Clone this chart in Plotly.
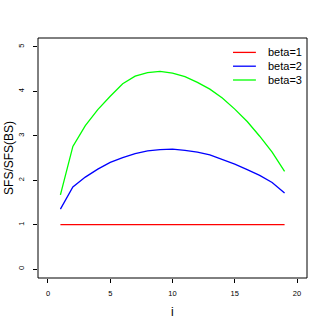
import plotly.graph_objects as go

i_vals = list(range(1, 20))
beta1 = [1.0] * 19
beta2 = [1.35, 1.85, 2.07, 2.25, 2.40, 2.51, 2.60, 2.66, 2.69, 2.70,
         2.67, 2.63, 2.57, 2.47, 2.36, 2.24, 2.11, 1.95, 1.71]
beta3 = [1.67, 2.76, 3.23, 3.59, 3.89, 4.17, 4.34, 4.42, 4.45, 4.41,
         4.33, 4.20, 4.05, 3.85, 3.60, 3.32, 2.99, 2.63, 2.20]
series_names = ["beta=1", "beta=2", "beta=3"]
series_colors = ["#FF0000", "#0000FF", "#00FF00"]
x_ticks = [0, 5, 10, 15, 20]
y_ticks = [0, 1, 2, 3, 4, 5]

FONT = "Liberation Sans, Arial, Helvetica, sans-serif"

fig = go.Figure()
for name, ys, col in zip(series_names, [beta1, beta2, beta3], series_colors):
    fig.add_trace(go.Scatter(x=i_vals, y=ys, mode="lines", name=name,
                             line=dict(color=col, width=1.3), showlegend=False,
                             hoverinfo="skip"))

fig.update_layout(
    width=327, height=327,
    margin=dict(l=38, r=20, t=38, b=49, pad=0),
    paper_bgcolor="white", plot_bgcolor="white",
    font=dict(family=FONT, color="black"),
    xaxis=dict(range=[-0.8, 20.8], tickvals=x_ticks, ticks="outside", ticklen=4,
               tickcolor="black", tickwidth=1, showgrid=False, zeroline=False,
               showline=False, tickfont=dict(size=7.5, color="black"),
               ticklabelstandoff=4),
    yaxis=dict(range=[-0.2, 5.2], tickvals=y_ticks, ticks="outside", ticklen=4,
               tickcolor="black", tickwidth=1, showgrid=False, zeroline=False,
               showline=False, tickfont=dict(size=7.5, color="black"), tickangle=-90,
               ticklabelstandoff=6),
)

# plot frame
fig.add_shape(type="rect", xref="paper", yref="paper", x0=0, x1=1, y0=0, y1=1,
              line=dict(color="black", width=1), fillcolor="rgba(0,0,0,0)")

# axis titles
fig.add_annotation(text="i", xref="paper", yref="paper", x=0.5, y=-0.14,
                   showarrow=False, font=dict(size=12), xanchor="center", yanchor="middle")
fig.add_annotation(text="SFS/SFS(BS)", xref="paper", yref="paper", x=-0.108, y=0.5,
                   showarrow=False, font=dict(size=12), textangle=-90,
                   xanchor="center", yanchor="middle")

# legend (drawn manually, R style)
leg_y = [0.94, 0.8825, 0.825]
for name, col, ly in zip(series_names, series_colors, leg_y):
    fig.add_shape(type="line", xref="paper", yref="paper", x0=0.725, x1=0.81,
                  y0=ly, y1=ly, line=dict(color=col, width=1.3))
    fig.add_annotation(text=name, xref="paper", yref="paper", x=0.849, y=ly,
                       showarrow=False, font=dict(size=11), xanchor="left",
                       yanchor="middle")

fig.write_html("out.html", config={"displayModeBar": False},
               post_script="document.body.style.margin='0px';")
